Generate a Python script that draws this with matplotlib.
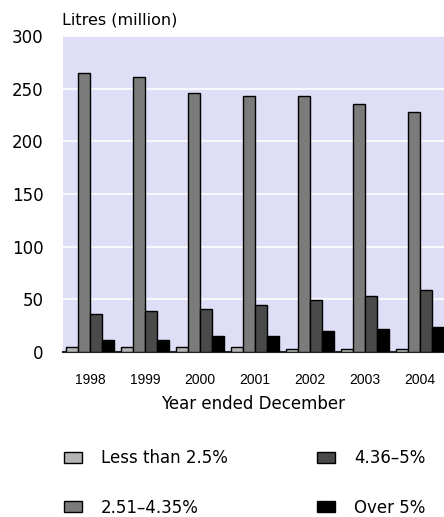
import matplotlib.pyplot as plt
import numpy as np

plt.rcParams['font.family'] = ['DejaVu Sans']

# Data (litres, million)
years = ['1998', '1999', '2000', '2001', '2002', '2003', '2004']
series_names = ['Less than 2.5%', '2.51\u20134.35%', '4.36\u20135%', 'Over 5%']
less_than_2_5 = [5, 5, 5, 5, 3, 3, 3]
mid_low = [265, 261, 246, 243, 243, 235, 228]
mid_high = [36, 39, 41, 45, 49, 53, 59]
over_5 = [11, 11, 15, 15, 20, 22, 24]

series = [less_than_2_5, mid_low, mid_high, over_5]
colors = ['#b4b4b4', '#7b7b7b', '#4a4a4a', '#000000']

fig = plt.figure(figsize=(4.44, 5.17), dpi=100)
ax = fig.add_axes([63 / 444, 165 / 517, 1 - 63 / 444, 316 / 517])
ax.set_facecolor('#dedef6')

x = np.arange(len(years))
w = 12 / 55
handles = []
for i, (vals, col) in enumerate(zip(series, colors)):
    b = ax.bar(x + (i - 1.5) * w, vals, width=w, color=col,
               edgecolor='black', linewidth=1.0, zorder=3)
    handles.append(b)

ax.set_ylim(0, 300)
ax.set_xlim(-0.49, 6.436)
ax.set_yticks(range(0, 301, 50))
ax.yaxis.grid(True, color='white', linewidth=1.2, zorder=0)
ax.set_axisbelow(True)
for s in ['top', 'right', 'left']:
    ax.spines[s].set_visible(False)
ax.spines['bottom'].set_color('#222222')
ax.spines['bottom'].set_linewidth(1.5)

ax.set_xticks(x)
ax.set_xticklabels(years, fontsize=10, family='Liberation Sans')
ax.tick_params(axis='both', length=0)
ax.tick_params(axis='y', labelsize=12, pad=14)
ax.tick_params(axis='x', pad=15)

ax.set_xlabel('Year ended December', fontsize=12, labelpad=6)
fig.text(62 / 444, 1 - 20 / 517, 'Litres (million)', fontsize=11.5, va='center', ha='left')

fig.legend(handles, series_names, ncol=2, loc='upper left',
           bbox_to_anchor=(64 / 444, 1 - 449 / 517), frameon=False,
           borderpad=0, borderaxespad=0,
           fontsize=12, handlelength=1.08, handleheight=0.66,
           handletextpad=1.14, columnspacing=5.35, labelspacing=1.9)

fig.savefig('out.png', dpi=100)
